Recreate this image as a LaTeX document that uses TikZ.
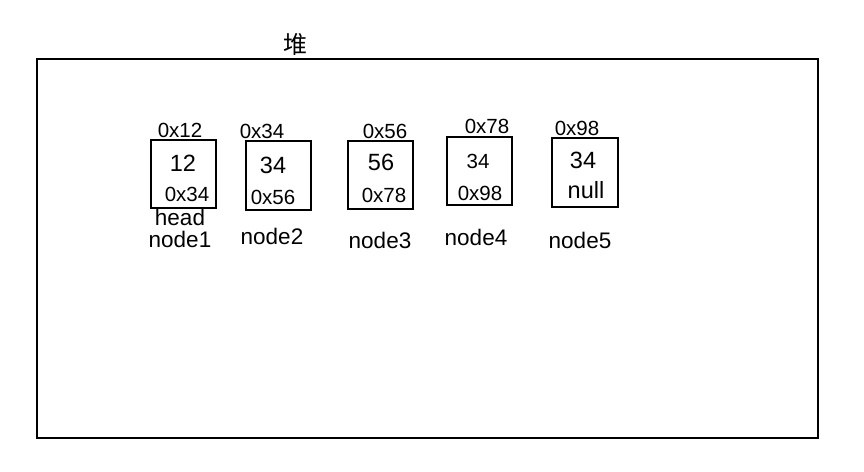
\documentclass[tikz,border=0pt]{standalone}
\usepackage{fontspec}
\setmainfont{Liberation Sans}
\newfontfamily\cjk{Noto Sans CJK SC}
\tikzset{
  cell/.style={draw, line width=1.1pt},
  addr/.style={inner sep=0pt, font=\fontsize{20.5}{24}\selectfont},
  val/.style={inner sep=0pt, font=\fontsize{23.5}{28}\selectfont},
  tag/.style={inner sep=0pt, font=\fontsize{22.5}{26}\selectfont}
}
\begin{document}
\begin{tikzpicture}[x=1pt,y=-1pt]
            \useasboundingbox (0,0) rectangle (864,471);
            \draw[line width=2pt] (37,59) rectangle (818,438);
            \node[inner sep=0pt, font=\cjk\fontsize{24}{28}\selectfont] (heap) at (295,44) {堆};
            % node1
            \draw[cell] (151,140) rectangle (216,208);
            \node[addr] (a1) at (180,130) {0x12};
            \node[val] (v1) at (183,163) {12};
            \node[addr] (n1) at (187,194) {0x34};
            \node[tag] (h1) at (180,217) {head};
            \node[tag] (l1) at (180,239) {node1};
            % node2
            \draw[cell] (246,141) rectangle (311,210);
            \node[addr] (a2) at (262,131) {0x34};
            \node[val] (v2) at (273,165) {34};
            \node[addr] (n2) at (273,197) {0x56};
            \node[tag] (l2) at (272,236) {node2};
            % node3
            \draw[cell] (348,141) rectangle (413,209);
            \node[addr] (a3) at (385,131) {0x56};
            \node[val] (v3) at (381,162) {56};
            \node[addr] (n3) at (384,195) {0x78};
            \node[tag] (l3) at (380,240) {node3};
            % node4
            \draw[cell] (447,137) rectangle (512,205);
            \node[addr] (a4) at (487,126) {0x78};
            \node[addr] (v4) at (478,161) {34};
            \node[addr] (n4) at (480,193) {0x98};
            \node[tag] (l4) at (476,237) {node4};
            % node5
            \draw[cell] (552,138) rectangle (618,207);
            \node[addr] (a5) at (577,128) {0x98};
            \node[val] (v5) at (583,160) {34};
            \node[val] (n5) at (586,190) {null};
            \node[tag] (l5) at (580,240) {node5};
        \end{tikzpicture}
\end{document}
